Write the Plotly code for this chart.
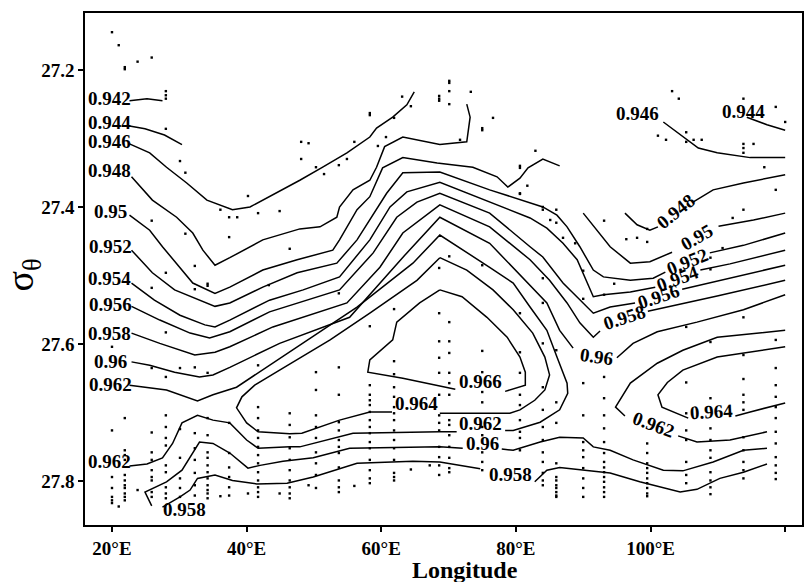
import plotly.graph_objects as go

# ---------------- contour lines (longitude, sigma-theta) ----------------
C0942_LON = [22.6, 25.2, 27.5]
C0942_SIG = [27.245, 27.242, 27.245]

C0944A_LON = [22.6, 24.9, 27.8, 30.4]
C0944A_SIG = [27.282, 27.286, 27.295, 27.309]
C0944B_LON = [114.3, 117.3, 120.0]
C0944B_SIG = [27.269, 27.280, 27.288]

C0946A_LON = [22.6, 25.6, 28.1, 31.1, 34.1, 37.9, 40.5, 43.0, 47.9, 51.3, 54.9, 58.3, 59.3, 61.7, 63.8, 64.9]
C0946A_SIG = [27.308, 27.321, 27.342, 27.365, 27.390, 27.404, 27.400, 27.387, 27.361, 27.342, 27.321, 27.298, 27.285, 27.269, 27.251, 27.232]
C0946B_LON = [101.9, 105.4, 107.1, 109.9, 114.8, 120.0]
C0946B_SIG = [27.276, 27.302, 27.314, 27.321, 27.328, 27.328]

C0948A_LON = [22.9, 26.0, 29.6, 32.0, 33.5, 35.3, 37.5, 42.4, 47.9, 50.9, 53.4, 53.8, 55.8, 58.3, 59.3, 60.5, 63.2, 68.7, 72.7, 73.2, 72.7]
C0948A_SIG = [27.356, 27.390, 27.415, 27.438, 27.463, 27.485, 27.474, 27.448, 27.432, 27.429, 27.415, 27.400, 27.375, 27.361, 27.342, 27.312, 27.298, 27.309, 27.305, 27.269, 27.250]
C0948B_LON = [96.2, 98.0, 99.9, 101.1, None, 106.3, 109.3, 113.8, 120.0]
C0948B_SIG = [27.409, 27.426, 27.434, 27.429, None, 27.393, 27.375, 27.365, 27.353]

C0950A_LON = [22.6, 25.6, 27.5, 29.6, 32.0, 35.3, 37.5, 42.4, 47.5, 52.8, 53.8, 56.4, 58.3, 60.2, 63.2, 68.3, 73.6, 77.2, 78.8, 80.6, 81.8, 84.0, 86.5]
C0950A_SIG = [27.412, 27.434, 27.458, 27.482, 27.511, 27.526, 27.517, 27.492, 27.477, 27.463, 27.448, 27.404, 27.385, 27.343, 27.328, 27.336, 27.342, 27.356, 27.371, 27.358, 27.343, 27.330, 27.340]
C0950B_LON = [90.0, 92.1, 94.0, 97.0, 99.9, 103.2, None, 110.1, 115.3, 120.0]
C0950B_SIG = [27.409, 27.434, 27.458, 27.482, 27.480, 27.466, None, 27.428, 27.419, 27.409]

C0952_LON = [22.9, 26.0, 29.3, 33.0, 35.3, 37.5, 42.4, 47.5, 53.4, 56.4, 58.3, 60.8, 63.2, 68.7, 76.1, 82.1, 84.0, 86.1, 87.6, 89.5, 91.5, 93.0, 97.0, 100.4, 102.2, None, 108.8, 113.8, 120.0]
C0952_SIG = [27.463, 27.496, 27.521, 27.536, 27.545, 27.540, 27.517, 27.496, 27.482, 27.448, 27.419, 27.380, 27.350, 27.349, 27.375, 27.394, 27.400, 27.412, 27.429, 27.458, 27.492, 27.502, 27.507, 27.504, 27.495, None, 27.467, 27.456, 27.438]

C0954_LON = [22.9, 26.3, 30.1, 33.8, 35.3, 37.5, 43.4, 48.4, 53.8, 58.3, 61.3, 63.8, 68.7, 76.1, 82.1, 84.6, 87.0, 89.1, 90.3, 91.5, 93.0, 97.0, 100.7, None, 107.4, 111.8, 120.0]
C0954_SIG = [27.511, 27.536, 27.558, 27.572, 27.575, 27.565, 27.536, 27.521, 27.502, 27.448, 27.400, 27.378, 27.364, 27.393, 27.416, 27.431, 27.453, 27.477, 27.504, 27.531, 27.528, 27.524, 27.517, None, 27.492, 27.483, 27.463]

C0956_LON = [22.9, 27.1, 31.6, 34.5, 37.5, 43.4, 53.8, 58.8, 62.3, 65.3, 68.7, 76.1, 82.1, 84.0, 87.0, 89.5, 91.5, 94.0, 97.7, None, 104.7, 109.9, 120.0]
C0956_SIG = [27.545, 27.565, 27.584, 27.591, 27.582, 27.553, 27.521, 27.467, 27.415, 27.393, 27.380, 27.409, 27.458, 27.473, 27.511, 27.536, 27.555, 27.546, 27.540, None, 27.520, 27.508, 27.485]

C0958A_LON = [22.9, 27.1, 32.3, 35.3, 37.5, 43.9, 54.9, 59.8, 63.2, 68.7, 76.1, 82.1, 85.0, 87.6, 89.5, 91.5, 92.5, None, 99.6, 104.4, 109.9, 120.0]
C0958A_SIG = [27.584, 27.599, 27.616, 27.612, 27.604, 27.575, 27.540, 27.488, 27.438, 27.397, 27.429, 27.477, 27.507, 27.540, 27.569, 27.590, 27.581, None, 27.552, 27.542, 27.530, 27.507]
C0958B_LON = [27.5, 30.1, 31.6, 32.7, 35.3, 37.9, 41.5, 46.0, 49.9, 56.4, 64.7, 68.7, 74.7, None, 82.8, 84.6, 86.5, 90.0, 94.0, 98.4, 104.4, 106.9, 110.3, 113.8, 117.3]
C0958B_SIG = [27.838, 27.823, 27.813, 27.796, 27.791, 27.799, 27.804, 27.803, 27.794, 27.774, 27.771, 27.772, 27.782, None, 27.801, 27.784, 27.780, 27.784, 27.788, 27.801, 27.816, 27.812, 27.796, 27.787, 27.775]

C0960A_LON = [22.9, 25.6, 29.3, 33.0, 35.0, 37.5, 44.9, 55.3, 63.8, 68.7, 76.1, 82.1, 84.6, 86.5, 88.5, None, 95.0, 97.4, 101.0, 106.9, 113.8, 120.0]
C0960A_SIG = [27.626, 27.631, 27.641, 27.648, 27.645, 27.634, 27.599, 27.561, 27.467, 27.415, 27.453, 27.514, 27.540, 27.580, 27.606, None, 27.620, 27.599, 27.582, 27.568, 27.550, 27.528]
C0960B_LON = [25.9, 24.9, 28.1, 30.4, 33.0, 35.0, 37.5, 40.2, 42.0, 45.4, 49.9, 55.3, 68.7, 72.1, None, 77.9, 79.6, 83.6, 86.5, 90.0, 91.5, 94.0, 97.4, 101.9, 104.8, 109.3, 113.8, 117.3]
C0960B_SIG = [27.836, 27.816, 27.801, 27.784, 27.743, 27.745, 27.759, 27.781, 27.777, 27.771, 27.766, 27.752, 27.750, 27.752, None, 27.753, 27.755, 27.743, 27.736, 27.737, 27.750, 27.755, 27.769, 27.784, 27.785, 27.772, 27.755, 27.752]

C0962A_LON = [22.6, 28.1, 32.7, 35.0, 38.5, 43.4, 51.3, 56.4, 64.7, 68.7, 76.1, 79.6, 82.1, 84.6, 86.1, 87.6, 87.7, 86.5, 83.6, 79.6, 78.4, None, 71.2, 68.7, 55.8, 47.9, 46.4, 41.7, 40.0, 37.5, 35.0, 32.7, 30.4, 29.0, 27.5, 25.2, 22.6]
C0962A_SIG = [27.660, 27.667, 27.683, 27.674, 27.663, 27.631, 27.580, 27.546, 27.482, 27.441, 27.488, 27.511, 27.546, 27.580, 27.619, 27.657, 27.672, 27.696, 27.714, 27.726, 27.726, None, 27.728, 27.728, 27.730, 27.750, 27.750, 27.752, 27.740, 27.715, 27.711, 27.704, 27.715, 27.745, 27.766, 27.775, 27.778]
C0962B_LON = [120.0, 115.8, 109.9, 104.8, 101.0, 97.0, 95.1, 94.8, 96.2, None, 104.1, 106.9, 111.8, 117.3]
C0962B_SIG = [27.580, 27.584, 27.590, 27.609, 27.628, 27.657, 27.686, 27.692, 27.705, None, 27.734, 27.743, 27.740, 27.728]

C0964A_LON = [68.7, 65.3, 58.3, 52.4, 44.9, 41.2, 39.3, 38.5, 40.0, 41.7, 46.4, 48.2, 53.8, 58.3, 61.6, None, 68.7, 69.8, 79.1, 80.6, 82.8, 84.3, 85.0, 84.3, 82.5, 79.6, 76.6, 72.7, 68.7]
C0964A_SIG = [27.474, 27.507, 27.555, 27.594, 27.638, 27.660, 27.677, 27.693, 27.715, 27.728, 27.731, 27.730, 27.711, 27.699, 27.699, None, 27.701, 27.701, 27.701, 27.696, 27.682, 27.667, 27.645, 27.619, 27.584, 27.550, 27.521, 27.492, 27.474]
C0964B_LON = [120.0, 116.7, 109.9, 104.8, 102.5, 101.1, 101.7, 105.6, None, 112.6, 114.8, 120.0]
C0964B_SIG = [27.604, 27.609, 27.619, 27.638, 27.656, 27.674, 27.692, 27.708, None, 27.705, 27.699, 27.686]

C0966_LON = [68.7, 65.7, 62.3, 61.7, 58.3, 58.0, 63.2, 69.2, 71.0, None, 78.4, 79.1, 81.4, 81.4, 80.6, 78.7, 75.7, 72.0, 68.7]
C0966_SIG = [27.521, 27.540, 27.568, 27.594, 27.623, 27.641, 27.650, 27.663, 27.666, None, 27.669, 27.667, 27.660, 27.641, 27.619, 27.590, 27.561, 27.531, 27.521]

# ---------------- contour labels ----------------
LABEL_TEXT = ["0.942", "0.944", "0.946", "0.948", "0.95", "0.952", "0.954", "0.956", "0.958", "0.96",
              "0.962", "0.962", "0.958", "0.964", "0.966", "0.962", "0.96", "0.958", "0.946", "0.944",
              "0.948", "0.95", "0.952", "0.954", "0.956", "0.958", "0.96", "0.962", "0.964"]
LABEL_LON = [19.6, 19.6, 19.6, 19.7, 19.8, 19.8, 19.6, 19.8, 19.6, 19.8,
             19.8, 19.6, 30.8, 65.2, 74.7, 74.8, 75.0, 79.2, 98.0, 113.8,
             103.7, 106.8, 105.5, 104.0, 101.2, 96.1, 91.9, 100.4, 109.1]
LABEL_SIG = [27.242, 27.277, 27.305, 27.347, 27.406, 27.457, 27.505, 27.543, 27.584, 27.625,
             27.659, 27.771, 27.841, 27.686, 27.654, 27.716, 27.745, 27.791, 27.263, 27.260,
             27.406, 27.444, 27.480, 27.504, 27.530, 27.561, 27.618, 27.718, 27.699]
LABEL_ANGLE = [0] * 20 + [-39, -30, -22, -20, -18, -18, 8, 20, -3]

# ---------------- sampling stations (dots) ----------------
STATION_LON = [20.0, 21.0, 21.9, 23.8, 25.9, 28.0, 30.1, 30.9, 32.3, 34.2, 36.1, 37.4, 38.6, 40.2, 41.7,
               43.3, 44.9, 46.4, 48.1, 49.2, 50.3, 51.5, 53.7, 54.9, 56.0, 58.3, 59.5, 60.7, 61.9, 63.1,
               64.4, 67.2, 68.6, 70.1, 71.7, 73.3, 75.0, 76.6, 80.6, 81.7, 82.9, 84.0, 85.1, 86.0, 87.0,
               88.8, 90.0, 93.1, 94.6, 96.4, 98.0, 99.5, 101.1, 102.3, 103.2, 104.2, 105.3, 106.4, 107.6,
               108.9, 110.7, 112.2, 113.8, 115.3, 116.9, 118.6, 120.0]
STATION_SIG = [
    [27.145, 27.604, 27.726, 27.794, 27.810, 27.823, 27.828, 27.832],
    [27.164, 27.837],
    [27.196, 27.199, 27.708, 27.755, 27.762, 27.769, 27.791, 27.799, 27.806, 27.810, 27.818, 27.823, 27.828],
    [27.188, 27.813],
    [27.182, 27.420, 27.518, 27.635, 27.729, 27.758, 27.769, 27.784, 27.794, 27.799, 27.816, 27.823],
    [27.231, 27.237, 27.242, 27.286, 27.496, 27.583, 27.648, 27.704, 27.721, 27.737, 27.748, 27.777, 27.787, 27.809, 27.818, 27.825],
    [27.333, 27.635, 27.724, 27.766, 27.796, 27.810, 27.823],
    [27.350, 27.439],
    [27.486, 27.520, 27.634, 27.730, 27.752, 27.769, 27.788, 27.806, 27.821],
    [27.512, 27.515, 27.642, 27.708, 27.733, 27.758, 27.766, 27.777, 27.787, 27.796, 27.806, 27.813, 27.818, 27.825],
    [27.404, 27.822],
    [27.415, 27.444, 27.715, 27.759, 27.780, 27.794, 27.809, 27.821],
    [27.415],
    [27.384, 27.818],
    [27.409, 27.631, 27.692, 27.708, 27.726, 27.737, 27.750, 27.762, 27.774, 27.787, 27.799, 27.809, 27.816, 27.823],
    [27.514],
    [27.406, 27.818],
    [27.461, 27.701, 27.718, 27.736, 27.752, 27.769, 27.784, 27.799, 27.809, 27.818, 27.825],
    [27.305, 27.330],
    [27.307, 27.806],
    [27.342, 27.641, 27.667, 27.704, 27.721, 27.737, 27.758, 27.774, 27.791, 27.810],
    [27.352],
    [27.339, 27.526, 27.634, 27.674, 27.714, 27.726, 27.740, 27.750, 27.759, 27.780, 27.799, 27.809, 27.816],
    [27.330],
    [27.305, 27.807],
    [27.263, 27.266, 27.574, 27.660, 27.674, 27.682, 27.689, 27.699, 27.711, 27.721, 27.730, 27.743, 27.752, 27.769, 27.784, 27.796, 27.803],
    [27.311],
    [27.298],
    [27.270, 27.549, 27.625, 27.644, 27.663, 27.677, 27.692, 27.701, 27.711, 27.726, 27.740, 27.752, 27.769, 27.788, 27.794, 27.799],
    [27.239],
    [27.253, 27.783],
    [27.777],
    [27.238, 27.242, 27.245, 27.489, 27.555, 27.596, 27.620, 27.642, 27.674, 27.704, 27.715, 27.726, 27.750, 27.765, 27.777, 27.791],
    [27.216, 27.219, 27.231, 27.250, 27.472, 27.568, 27.596, 27.613, 27.642, 27.657, 27.674, 27.711, 27.718, 27.733, 27.750, 27.766, 27.781, 27.787],
    [27.302],
    [27.232],
    [27.285, 27.288, 27.485, 27.610, 27.641, 27.670, 27.685, 27.721, 27.733, 27.758, 27.772, 27.784],
    [27.270],
    [27.340, 27.343, 27.380, 27.381, 27.555, 27.612, 27.642, 27.674, 27.689, 27.711, 27.728, 27.737, 27.755],
    [27.369],
    [27.318],
    [27.400, 27.404, 27.504, 27.540, 27.599, 27.663, 27.696, 27.721, 27.740, 27.758, 27.772, 27.788, 27.799, 27.806],
    [27.419],
    [27.404, 27.423, 27.609, 27.685, 27.715, 27.774, 27.794, 27.799, 27.806, 27.810, 27.816, 27.821, 27.823],
    [27.445],
    [27.453],
    [27.493, 27.534, 27.657, 27.704, 27.743, 27.755, 27.765, 27.781, 27.796, 27.810, 27.823],
    [27.420, 27.528, 27.648, 27.679, 27.704, 27.723, 27.743, 27.759, 27.772, 27.780, 27.787, 27.794, 27.801, 27.809, 27.816, 27.823],
    [27.512],
    [27.447],
    [27.445],
    [27.432, 27.451, 27.745, 27.759, 27.774, 27.781, 27.788, 27.796, 27.803, 27.810, 27.818, 27.822],
    [27.296],
    [27.302],
    [27.231],
    [27.242],
    [27.291, 27.305, 27.575, 27.656, 27.701, 27.726, 27.740, 27.772, 27.791, 27.803],
    [27.302],
    [27.302],
    [27.474, 27.491, 27.597, 27.679, 27.723, 27.740, 27.755, 27.766, 27.787, 27.799, 27.809, 27.819],
    [27.460],
    [27.416],
    [27.242, 27.308, 27.314, 27.321, 27.404, 27.561, 27.616, 27.651, 27.674, 27.685, 27.696, 27.736, 27.755, 27.772, 27.784, 27.796],
    [27.308],
    [27.342],
    [27.254, 27.375, 27.594, 27.635, 27.660, 27.677, 27.692, 27.708, 27.728, 27.745, 27.765, 27.777, 27.788, 27.797],
    [27.276],
]

X_TICKS = [20, 40, 60, 80, 100, 120]
X_TICK_TEXT = ["20°E", "40°E", "60°E", "80°E", "100°E", "120°E"]
Y_TICKS = [27.2, 27.4, 27.6, 27.8]
Y_TICK_TEXT = ["27.2", "27.4", "27.6", "27.8"]

SEGMENTS = [
    (C0942_LON, C0942_SIG), (C0944A_LON, C0944A_SIG), (C0944B_LON, C0944B_SIG),
    (C0946A_LON, C0946A_SIG), (C0946B_LON, C0946B_SIG),
    (C0948A_LON, C0948A_SIG), (C0948B_LON, C0948B_SIG),
    (C0950A_LON, C0950A_SIG), (C0950B_LON, C0950B_SIG),
    (C0952_LON, C0952_SIG), (C0954_LON, C0954_SIG), (C0956_LON, C0956_SIG),
    (C0958A_LON, C0958A_SIG), (C0958B_LON, C0958B_SIG),
    (C0960A_LON, C0960A_SIG), (C0960B_LON, C0960B_SIG),
    (C0962A_LON, C0962A_SIG), (C0962B_LON, C0962B_SIG),
    (C0964A_LON, C0964A_SIG), (C0964B_LON, C0964B_SIG),
    (C0966_LON, C0966_SIG),
]

SERIF = "Liberation Serif, Times New Roman, serif"

fig = go.Figure()

dot_x, dot_y = [], []
for lon, sigs in zip(STATION_LON, STATION_SIG):
    for s in sigs:
        dot_x.append(lon)
        dot_y.append(s)
fig.add_trace(go.Scatter(x=dot_x, y=dot_y, mode="markers",
                         marker=dict(size=2.4, color="black", symbol="square", line=dict(width=0)),
                         hoverinfo="skip", showlegend=False))

for lon, sig in SEGMENTS:
    fig.add_trace(go.Scatter(x=lon, y=sig, mode="lines", connectgaps=False,
                             line=dict(color="black", width=1.5),
                             hoverinfo="skip", showlegend=False))

for t, lx, ly, ang in zip(LABEL_TEXT, LABEL_LON, LABEL_SIG, LABEL_ANGLE):
    fig.add_annotation(x=lx, y=ly, xref="x", yref="y", text=t, showarrow=False,
                       textangle=ang, xanchor="center", yanchor="middle",
                       font=dict(family=SERIF, size=19, color="black", weight="bold"))

fig.add_annotation(x=0.530, y=-0.088, xref="paper", yref="paper", text="Longitude",
                   showarrow=False, xanchor="center", yanchor="middle",
                   font=dict(family=SERIF, size=24, color="black", weight="bold"))
fig.add_annotation(x=-0.086, y=0.488, xref="paper", yref="paper", text="σ<sub>θ</sub>",
                   showarrow=False, xanchor="center", yanchor="middle", textangle=-90,
                   font=dict(family=SERIF, size=38, color="black"))

axis_common = dict(showline=True, linecolor="black", linewidth=1.6, mirror=True,
                   ticks="outside", ticklen=5, tickwidth=1.5, tickcolor="black",
                   showgrid=False, zeroline=False, automargin=False,
                   tickfont=dict(family=SERIF, size=19, color="black", weight="bold"))

fig.update_xaxes(range=[15.99, 122.5], tickvals=X_TICKS, ticktext=X_TICK_TEXT, **axis_common)
fig.update_yaxes(range=[27.864, 27.117], tickvals=Y_TICKS, ticktext=Y_TICK_TEXT, **axis_common)

fig.update_layout(width=807, height=582, margin=dict(l=85, r=5, t=13, b=57, autoexpand=False),
                  plot_bgcolor="white", paper_bgcolor="white", showlegend=False)

fig.write_html("out.html", config={"displayModeBar": False},
               post_script="document.body.style.margin='0';document.body.style.padding='0';")
